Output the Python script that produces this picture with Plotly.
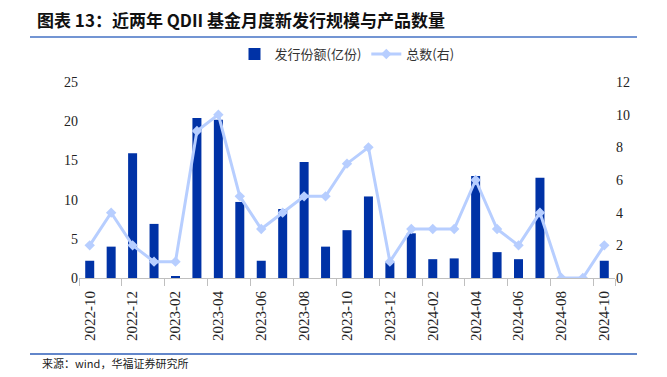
import plotly.graph_objects as go

months = ["2022-10","2022-11","2022-12","2023-01","2023-02","2023-03","2023-04","2023-05",
          "2023-06","2023-07","2023-08","2023-09","2023-10","2023-11","2023-12","2024-01",
          "2024-02","2024-03","2024-04","2024-05","2024-06","2024-07","2024-08","2024-09","2024-10"]
issue_share = [2.2, 4.0, 15.9, 6.9, 0.2, 20.4, 20.2, 9.7, 2.2, 8.8, 14.8, 4.0, 6.1,
               10.4, 2.0, 5.7, 2.4, 2.5, 13.0, 3.3, 2.4, 12.8, 0, 0, 2.2]
fund_count = [2, 4, 2, 1, 1, 9, 10, 5, 3, 4, 5, 5, 7, 8, 1, 3, 3, 3, 6, 3, 2, 4, 0, 0, 2]
tick_labels = months[::2]

# page body has an 8px margin; work in window pixels and shift
OFF = 8
W, H = 667 - OFF, 377 - OFF
L, R, T, B = 79 - OFF, 615 - OFF, 82 - OFF, 278 - OFF
pw, ph = R - L, B - T
def px(x): return (x - OFF - L) / pw
def py(y): return (B - (y - OFF)) / ph

serif = "Liberation Serif, Times New Roman, serif"
cjk = "Noto Sans CJK SC"

fig = go.Figure()
fig.add_trace(go.Bar(x=months, y=issue_share, name="发行份额(亿份)",
                     marker=dict(color="#0032A6", line=dict(width=0)), yaxis="y"))
fig.add_trace(go.Scatter(x=months, y=fund_count, name="总数(右)", mode="lines+markers",
                         line=dict(color="#B7CEFF", width=3),
                         marker=dict(symbol="diamond", size=8, color="#B7CEFF"), yaxis="y2"))

fig.update_layout(
    width=W, height=H,
    margin=dict(l=L, r=W - R, t=T, b=H - B),
    paper_bgcolor="white", plot_bgcolor="white",
    bargap=0.58,
    showlegend=True,
    legend=dict(orientation="h", x=0.5, xanchor="center", y=py(54), yanchor="middle",
                font=dict(family=cjk, size=13, color="#333"), itemwidth=30,
                traceorder="normal"),
    xaxis=dict(type="category", tickvals=tick_labels, ticktext=tick_labels,
               tickangle=-90, tickson="boundaries", ticks="outside", ticklen=7,
               ticklabelstandoff=6,
               tickcolor="#BFBFBF", showline=True, linecolor="#BFBFBF", linewidth=1,
               showgrid=False, tickfont=dict(family=serif, size=15, color="#222"),
               range=[-0.5, 24.5]),
    yaxis=dict(range=[0, 25], dtick=5, showgrid=False, zeroline=False, showline=False,
               tickfont=dict(family=serif, size=14, color="#222"), ticks=""),
    yaxis2=dict(range=[0, 12], dtick=2, overlaying="y", side="right", showgrid=False,
                zeroline=False, showline=False,
                tickfont=dict(family=serif, size=14, color="#222"), ticks=""),
    shapes=[
        dict(type="line", xref="paper", yref="paper", x0=px(30), x1=px(637),
             y0=py(37), y1=py(37), line=dict(color="#4472C4", width=1.5)),
        dict(type="line", xref="paper", yref="paper", x0=px(30), x1=px(637),
             y0=py(354), y1=py(354), line=dict(color="#2E5EB8", width=1.5)),
    ],
    annotations=[
        dict(text="<b>图表 13：近两年 QDII 基金月度新发行规模与产品数量</b>", xref="paper", yref="paper",
             x=px(35), y=py(19), xanchor="left", yanchor="middle", showarrow=False,
             font=dict(family=cjk, size=17, color="#111")),
        dict(text="来源：wind，华福证券研究所", xref="paper", yref="paper",
             x=px(40), y=py(363), xanchor="left", yanchor="middle", showarrow=False,
             font=dict(family=cjk, size=11, color="#222")),
    ],
)

fig.write_html("out.html")
